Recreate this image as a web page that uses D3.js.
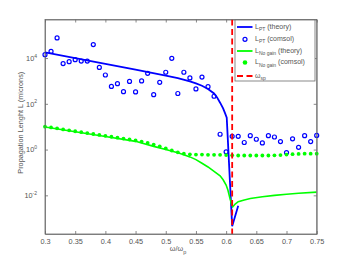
<!DOCTYPE html>
<html><head><meta charset="utf-8">
<script src="https://cdn.jsdelivr.net/npm/d3@7"></script>
<style>html,body{margin:0;padding:0;background:#fff;}svg{display:block;font-family:"Liberation Sans",Arial,sans-serif;}</style>
</head><body>
<svg id="chart" width="350" height="263"></svg>
<script>
// ---- data ----
const xTicks = [0.3,0.35,0.4,0.45,0.5,0.55,0.6,0.65,0.7,0.75];
const yTicks = [1e-2,1e0,1e2,1e4];
const yTickExp = ["-2","0","2","4"];
const omegaSp = 0.61;

const ptTheoryW = [0.30,0.35,0.40,0.45,0.50,0.52,0.54,0.55,0.56,0.57,0.58,0.585,0.59,0.595,0.598,0.601,0.610,0.620];
const ptTheoryL = [17800,10000,5620,3090,1700,1320,955,776,617,447,282,191,112,63,40,25,4.5e-4,3.5e-3];

const ptComsolW = [0.30,0.31,0.32,0.33,0.34,0.35,0.36,0.37,0.38,0.39,0.40,0.41,0.42,0.43,0.44,0.45,0.46,0.47,0.48,0.49,0.50,0.51,0.52,0.53,0.54,0.55,0.56,0.57,0.58,0.59,0.60,0.61,0.62,0.63,0.64,0.65,0.66,0.67,0.68,0.69,0.70,0.71,0.72,0.73,0.74,0.75];
const ptComsolL = [14100,19500,75900,5750,6920,8510,7410,7410,38900,3890,1820,575,759,339,955,331,1000,2140,251,871,2400,9770,282,2400,1350,447,1480,562,214,4.68,0.794,3.80,3.80,2.04,4.07,2.82,1.95,4.07,3.55,2.24,0.741,2.95,1.26,4.07,2.24,4.17];

const ngTheoryW = [0.30,0.35,0.40,0.45,0.48,0.50,0.52,0.53,0.54,0.55,0.56,0.57,0.58,0.59,0.595,0.60,0.603,0.606,0.609,0.611,0.615,0.62,0.63,0.64,0.66,0.68,0.70,0.72,0.75];
const ngTheoryL = [9.77,6.03,3.72,2.29,1.38,1.0,0.724,0.589,0.479,0.363,0.251,0.174,0.112,0.0708,0.0479,0.0282,0.0166,0.00794,0.00398,0.00316,0.00417,0.00525,0.00631,0.00724,0.00871,0.0100,0.0112,0.0123,0.0138];

const ngComsolW = ptComsolW;
const ngComsolL = [10.0,9.33,8.51,7.59,6.92,6.31,5.75,5.25,4.79,4.37,3.98,3.63,3.31,3.02,2.75,2.51,2.24,1.95,1.66,1.38,1.12,0.912,0.759,0.661,0.617,0.603,0.603,0.589,0.589,0.589,0.575,0.562,0.550,0.550,0.550,0.550,0.550,0.550,0.562,0.575,0.603,0.631,0.646,0.661,0.661,0.661];

const legendItems = [
  {main:"L", sub:"PT", rest:" (theory)", kind:"line", color:"#0000ff"},
  {main:"L", sub:"PT", rest:" (comsol)", kind:"circle", color:"#0000ff"},
  {main:"L", sub:"No gain", rest:"  (theory)", kind:"line", color:"#00ff00"},
  {main:"L", sub:"No gain", rest:"  (comsol)", kind:"dot", color:"#00ff00"},
  {main:"\u03c9", sub:"sp", rest:"", kind:"dash", color:"#ff0000"}
];

// ---- layout ----
const L = 45, R = 316.7, T = 19.5, B = 234;
const axisColor = "#6b6b6b", textColor = "#555555";
const svg = d3.select("#chart");
const x = d3.scaleLinear().domain([0.3,0.75]).range([L,R]);
const y = d3.scaleLog().domain([Math.pow(10,-3.69), Math.pow(10,5.685)]).range([B,T]);

svg.append("defs").append("clipPath").attr("id","clip")
  .append("rect").attr("x",L).attr("y",T).attr("width",R-L).attr("height",B-T);

function styleAxis(g){
  g.selectAll("path,line").attr("stroke",axisColor).attr("stroke-width",0.8);
  g.selectAll("text").attr("fill",textColor).attr("font-size","7.3px").attr("font-family",'"Liberation Sans",Arial,sans-serif');
}
svg.append("g").attr("transform",`translate(0,${B})`)
  .call(d3.axisBottom(x).tickValues(xTicks).tickFormat(d3.format("")).tickSizeInner(-3).tickSizeOuter(0).tickPadding(4.5))
  .call(styleAxis);
svg.append("g").attr("transform",`translate(0,${T})`)
  .call(d3.axisTop(x).tickValues(xTicks).tickFormat("").tickSizeInner(-3).tickSizeOuter(0))
  .call(styleAxis);
const ly = svg.append("g").attr("transform",`translate(${L},0)`)
  .call(d3.axisLeft(y).tickValues(yTicks).tickFormat(()=>"").tickSizeInner(-3).tickSizeOuter(0).tickPadding(8))
  .call(styleAxis);
ly.selectAll(".tick text").each(function(d,i){
  const t = d3.select(this);
  t.text(null);
  t.append("tspan").text("10");
  t.append("tspan").attr("dy","-3.2").attr("font-size","5px").text(yTickExp[i]);
});
svg.append("g").attr("transform",`translate(${R},0)`)
  .call(d3.axisRight(y).tickValues(yTicks).tickFormat("").tickSizeInner(-3).tickSizeOuter(0))
  .call(styleAxis);

// ---- marks ----
const plot = svg.append("g").attr("clip-path","url(#clip)");
const marks = svg.append("g");
const line = d3.line().x(d=>x(d[0])).y(d=>y(d[1]));

plot.append("path").datum(ptTheoryW.map((w,i)=>[w,ptTheoryL[i]]))
  .attr("d",line).attr("fill","none").attr("stroke","#0000ff").attr("stroke-width",1.8);

svg.selectAll(".ptc").data(ptComsolW.map((w,i)=>[w,ptComsolL[i]])).enter().append("circle")
  .attr("class","ptc")
  .attr("cx",d=>x(d[0])).attr("cy",d=>y(d[1])).attr("r",2.0)
  .attr("fill","none").attr("stroke","#0000ff").attr("stroke-width",1.2);

svg.append("path").attr("clip-path","url(#clip)").datum(ngTheoryW.map((w,i)=>[w,ngTheoryL[i]]))
  .attr("d",line).attr("fill","none").attr("stroke","#00ff00").attr("stroke-width",1.6);

svg.selectAll(".ngc").data(ngComsolW.map((w,i)=>[w,ngComsolL[i]])).enter().append("circle")
  .attr("class","ngc")
  .attr("cx",d=>x(d[0])).attr("cy",d=>y(d[1])).attr("r",1.9)
  .attr("fill","#00ff00");

svg.append("line").attr("x1",x(omegaSp)).attr("x2",x(omegaSp)).attr("y1",T).attr("y2",B)
  .attr("stroke","#ff0000").attr("stroke-width",1.8).attr("stroke-dasharray","6,3.5");

svg.append("rect").attr("x",L).attr("y",T).attr("width",R-L).attr("height",B-T)
  .attr("fill","none").attr("stroke",axisColor).attr("stroke-width",0.8);

// ---- labels ----
svg.append("text").attr("transform",`translate(23,${(T+B)/2-4}) rotate(-90)`)
  .attr("text-anchor","middle").attr("fill",textColor).attr("font-size","7.3px")
  .text("Propagation Lenght L (microns)");

const xl = svg.append("text").attr("x",178).attr("y",251).attr("text-anchor","middle")
  .attr("fill",textColor).attr("font-size","7.3px");
xl.append("tspan").text("\u03c9/\u03c9");
xl.append("tspan").attr("dy","2.5").attr("font-size","5.5px").text("p");

// ---- legend ----
const lg = svg.append("g");
lg.append("rect").attr("x",235).attr("y",20).attr("width",80).attr("height",61)
  .attr("fill","#fff").attr("stroke",axisColor).attr("stroke-width",0.8);
const rowY = [27,39.3,51,62.5,76];
legendItems.forEach((it,i)=>{
  const yy = rowY[i];
  if(it.kind==="line"){
    lg.append("line").attr("x1",237).attr("x2",252.5).attr("y1",yy).attr("y2",yy)
      .attr("stroke",it.color).attr("stroke-width",1.8);
  } else if(it.kind==="circle"){
    lg.append("circle").attr("cx",245).attr("cy",yy).attr("r",2.0).attr("fill","none")
      .attr("stroke",it.color).attr("stroke-width",1.2);
  } else if(it.kind==="dot"){
    lg.append("circle").attr("cx",245).attr("cy",yy).attr("r",2.3).attr("fill",it.color);
  } else {
    lg.append("line").attr("x1",237).attr("x2",252.5).attr("y1",yy).attr("y2",yy)
      .attr("stroke",it.color).attr("stroke-width",1.8).attr("stroke-dasharray","6,3.5");
  }
  const t = lg.append("text").attr("x",255).attr("y",yy+1.5).attr("fill",textColor).attr("font-size","7px");
  t.append("tspan").text(it.main);
  t.append("tspan").attr("dy","2.5").attr("font-size","5px").text(it.sub);
  if(it.rest) t.append("tspan").attr("dy","-2.5").text(it.rest);
});
</script>
</body></html>
